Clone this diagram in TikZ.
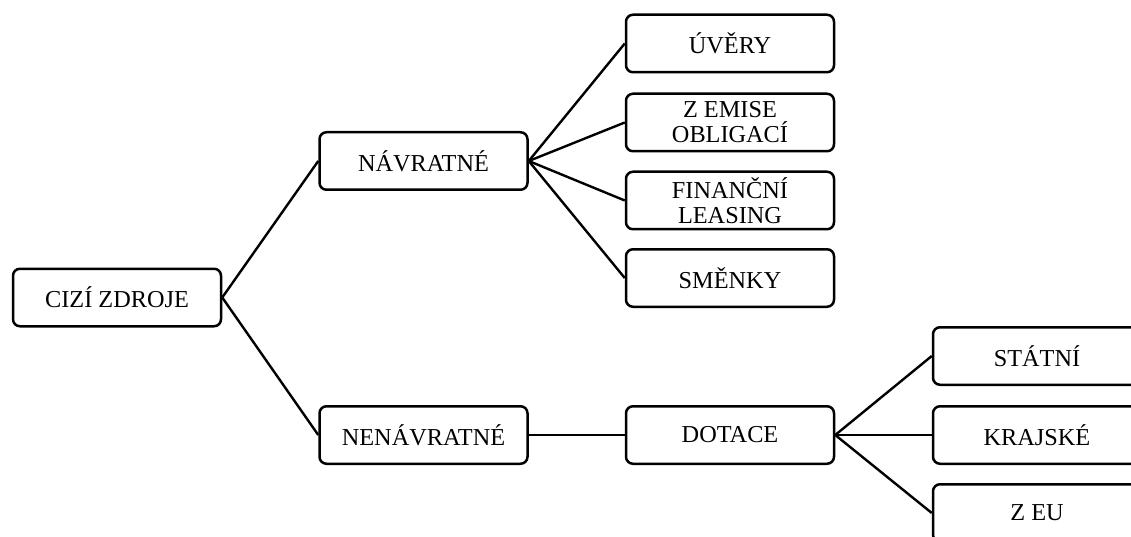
\documentclass[tikz,border=0pt]{standalone}
\usepackage{fontspec}
\setmainfont{Liberation Serif}
\begin{document}
\begin{tikzpicture}[x=1pt,y=-1pt,
  box/.style={draw=black,line width=2.5pt,rounded corners=7pt,minimum width=208pt,minimum height=57.5pt,inner sep=0pt,align=center,font=\fontsize{24.3}{25}\selectfont,text=black},
  link/.style={draw=black,line width=2.4pt}]
\useasboundingbox (0,0) rectangle (1131,537);
\clip (0,0) rectangle (1131,537);
\node[box] (ciz) at (117,297.5) {CIZÍ ZDROJE};
\node[box] (nav) at (423.5,161) {NÁVRATNÉ};
\node[box] (nen) at (423.5,435) {NENÁVRATNÉ};
\node[box] (uve) at (730,43.5) {ÚVĚRY};
\node[box] (zem) at (730,122.5) {Z EMISE\\OBLIGACÍ};
\node[box] (fin) at (730,200.5) {FINANČNÍ\\LEASING};
\node[box] (sme) at (730,278) {SMĚNKY};
\node[box] (dot) at (730,435) {DOTACE};
\node[box] (sta) at (1037,356) {STÁTNÍ};
\node[box] (kra) at (1037,435) {KRAJSKÉ};
\node[box] (zeu) at (1037,513) {Z EU};
\draw[link] (ciz.east) -- (nav.west);
\draw[link] (ciz.east) -- (nen.west);
\foreach \t in {uve,zem,fin,sme} \draw[link] (nav.east) -- (\t.west);
\draw[link] (nen.east) -- (dot.west);
\foreach \t in {sta,kra,zeu} \draw[link] (dot.east) -- (\t.west);
\end{tikzpicture}
\end{document}
